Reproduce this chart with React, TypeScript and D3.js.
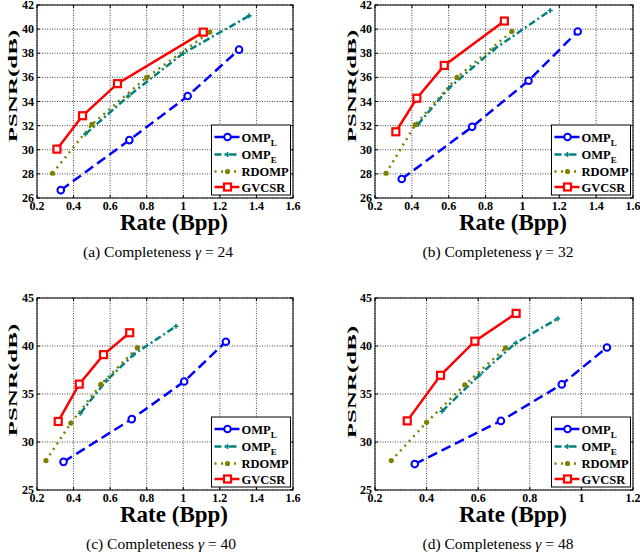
import React from 'react';
import * as d3 from 'd3';

// rate (bpp), psnr (dB) pairs
const ompL_a = [[0.33, 26.65], [0.705, 30.8], [1.024, 34.45], [1.305, 38.3]];
const ompE_a = [[0.465, 31.3], [0.7, 34.45], [1.0, 38.0], [1.36, 41.1]];
const rdomp_a = [[0.285, 28.05], [0.5, 32.1], [0.8, 36.0], [1.145, 39.75]];
const gvcsr_a = [[0.309, 30.05], [0.449, 32.82], [0.64, 35.48], [1.109, 39.75]];

const ompL_b = [[0.345, 27.57], [0.727, 31.9], [1.033, 35.72], [1.3, 39.8]];
const ompE_b = [[0.433, 32.1], [0.6, 35.1], [0.843, 38.3], [1.151, 41.55]];
const rdomp_b = [[0.26, 28.05], [0.418, 32.07], [0.645, 36.0], [0.943, 39.82]];
const gvcsr_b = [[0.313, 31.49], [0.427, 34.27], [0.576, 36.99], [0.902, 40.67]];

const ompL_c = [[0.345, 27.93], [0.718, 32.38], [1.005, 36.3], [1.233, 40.45]];
const ompE_c = [[0.437, 33.0], [0.58, 36.4], [0.727, 39.1], [0.96, 42.05]];
const rdomp_c = [[0.249, 28.07], [0.385, 31.97], [0.549, 36.0], [0.749, 39.83]];
const gvcsr_c = [[0.316, 32.14], [0.431, 36.03], [0.564, 39.1], [0.707, 41.38]];

const ompL_d = [[0.354, 27.7], [0.688, 32.2], [0.924, 36.0], [1.099, 39.85]];
const ompE_d = [[0.46, 33.2], [0.606, 37.0], [0.745, 40.3], [0.908, 42.85]];
const rdomp_d = [[0.263, 28.06], [0.4, 32.05], [0.548, 35.95], [0.706, 39.8]];
const gvcsr_d = [[0.325, 32.2], [0.454, 36.95], [0.587, 40.5], [0.747, 43.4]];

const xTicksWide = [0.2, 0.4, 0.6, 0.8, 1, 1.2, 1.4, 1.6];
const xTicksNarrow = [0.2, 0.4, 0.6, 0.8, 1, 1.2];
const yTicksFine = [26, 28, 30, 32, 34, 36, 38, 40, 42];
const yTicksCoarse = [25, 30, 35, 40, 45];

const seriesNames = ['OMP', 'OMP', 'RDOMP', 'GVCSR'];
const seriesSubs = ['L', 'E', '', ''];
const captions = [
  ['(a)', '24'],
  ['(b)', '32'],
  ['(c)', '40'],
  ['(d)', '48'],
];

const styles = [
  { color: '#0000ff', dash: '10 5', marker: 'circle' },
  { color: '#008080', dash: '7 3 2 3', marker: 'plus' },
  { color: '#808000', dash: '2 4.5', marker: 'dot' },
  { color: '#ff0000', dash: null, marker: 'square' },
];

const serif = '"Liberation Serif", "Times New Roman", serif';

const Marker = ({ kind, x, y, color }) => {
  if (kind === 'circle')
    return <circle cx={x} cy={y} r={3.3} fill="#fff" stroke={color} strokeWidth={2} />;
  if (kind === 'square')
    return <rect x={x - 3.5} y={y - 3.5} width={7} height={7} fill="#fff" stroke={color} strokeWidth={2.2} />;
  if (kind === 'dot') return <circle cx={x} cy={y} r={2.6} fill={color} />;
  return (
    <path d={`M${x - 2.5},${y}H${x + 2.5}M${x},${y - 2.5}V${y + 2.5}`} stroke={color} strokeWidth={1.6} />
  );
};

const Panel = ({ box, xDomain, xTicks, yDomain, yTicks, series, caption, captionX, labelX, labelY }) => {
  const { left, right, top, bottom } = box;
  const x = d3.scaleLinear().domain(xDomain).range([left, right]);
  const y = d3.scaleLinear().domain(yDomain).range([bottom, top]);
  const line = d3.line().x(d => x(d[0])).y(d => y(d[1]));

  const lgW = 79, lgH = 70;
  const lgX = right - 2.5 - lgW;
  const lgY = bottom - 3 - lgH;
  const rows = [12, 29.5, 46.5, 62];

  return (
    <g>
      {/* grid */}
      {xTicks.map(t => (
        <line key={'gx' + t} x1={x(t)} x2={x(t)} y1={top} y2={bottom} stroke="#444" strokeWidth={1} strokeDasharray="1 1.5" />
      ))}
      {yTicks.map(t => (
        <line key={'gy' + t} x1={left} x2={right} y1={y(t)} y2={y(t)} stroke="#444" strokeWidth={1} strokeDasharray="1 1.5" />
      ))}
      <rect x={left} y={top} width={right - left} height={bottom - top} fill="none" stroke="#000" strokeWidth={1} />
      {/* ticks */}
      {xTicks.map(t => (
        <g key={'tx' + t}>
          <line x1={x(t)} x2={x(t)} y1={bottom} y2={bottom - 3} stroke="#000" />
          <line x1={x(t)} x2={x(t)} y1={top} y2={top + 3} stroke="#000" />
          <text x={x(t)} y={bottom + 12} textAnchor="middle" fontFamily={serif} fontWeight="bold" fontSize={12}>
            {String(+t.toFixed(1))}
          </text>
        </g>
      ))}
      {yTicks.map(t => (
        <g key={'ty' + t}>
          <line x1={left} x2={left + 3} y1={y(t)} y2={y(t)} stroke="#000" />
          <line x1={right} x2={right - 3} y1={y(t)} y2={y(t)} stroke="#000" />
          <text x={left - 3} y={y(t) + 4} textAnchor="end" fontFamily={serif} fontWeight="bold" fontSize={12}>
            {t}
          </text>
        </g>
      ))}

      {/* lines */}
      {series.map((s, i) => (
        <g key={'s' + i}>
          <path
            d={line(s)}
            fill="none"
            stroke={styles[i].color}
            strokeWidth={2.5}
            strokeDasharray={styles[i].dash || undefined}
          />
          {s.map((p, j) => (
            <Marker key={j} kind={styles[i].marker} x={x(p[0])} y={y(p[1])} color={styles[i].color} />
          ))}
        </g>
      ))}

      {/* legend */}
      <rect x={lgX} y={lgY} width={lgW} height={lgH} fill="#fff" stroke="#000" strokeWidth={1} />
      {rows.map((r, i) => (
        <g key={'lg' + i}>
          <line
            x1={lgX + 3}
            x2={lgX + 28}
            y1={lgY + r}
            y2={lgY + r}
            stroke={styles[i].color}
            strokeWidth={2.5}
            strokeDasharray={styles[i].dash || undefined}
          />
          <Marker kind={styles[i].marker} x={lgX + 16} y={lgY + r} color={styles[i].color} />
          <text x={lgX + 30} y={lgY + r + 4.5} fontFamily={serif} fontWeight="bold" fontSize={12.5}>
            {seriesNames[i]}
            {seriesSubs[i] && (
              <tspan fontSize={9} dy={4}>
                {seriesSubs[i]}
              </tspan>
            )}
          </text>
        </g>
      ))}

      {/* axis labels */}
      <text
        x={(left + right) / 2 + 9}
        y={bottom + 32}
        textAnchor="middle"
        fontFamily={serif}
        fontWeight="bold"
        fontSize={23}
      >
        Rate (Bpp)
      </text>
      <text
        transform={`translate(${labelX},${labelY}) rotate(-90) scale(1,0.5)`}
        textAnchor="middle"
        dominantBaseline="central"
        fontFamily={serif}
        fontWeight="bold"
        fontSize={25}
      >
        PSNR(dB)
      </text>

      {/* caption */}
      <text x={captionX} y={bottom + 59} textAnchor="middle" fontFamily={serif} fontSize={15.5}>
        {caption[0]} Completeness <tspan fontStyle="italic">γ</tspan> = {caption[1]}
      </text>
    </g>
  );
};

export default function App() {
  const panels = [
    {
      box: { left: 37, right: 293, top: 5, bottom: 198 },
      xDomain: [0.2, 1.6], xTicks: xTicksWide, yDomain: [26, 42], yTicks: yTicksFine,
      series: [ompL_a, ompE_a, rdomp_a, gvcsr_a], caption: captions[0], captionX: 158, labelX: 13, labelY: 86,
    },
    {
      box: { left: 375, right: 633, top: 5, bottom: 198 },
      xDomain: [0.2, 1.6], xTicks: xTicksWide, yDomain: [26, 42], yTicks: yTicksFine,
      series: [ompL_b, ompE_b, rdomp_b, gvcsr_b], caption: captions[1], captionX: 498, labelX: 352, labelY: 86,
    },
    {
      box: { left: 37, right: 293, top: 298, bottom: 490 },
      xDomain: [0.2, 1.6], xTicks: xTicksWide, yDomain: [25, 45], yTicks: yTicksCoarse,
      series: [ompL_c, ompE_c, rdomp_c, gvcsr_c], caption: captions[2], captionX: 161, labelX: 13, labelY: 380,
    },
    {
      box: { left: 375, right: 633, top: 298, bottom: 490 },
      xDomain: [0.2, 1.2], xTicks: xTicksNarrow, yDomain: [25, 45], yTicks: yTicksCoarse,
      series: [ompL_d, ompE_d, rdomp_d, gvcsr_d], caption: captions[3], captionX: 498, labelX: 352, labelY: 382,
    },
  ];

  return (
    <svg width={640} height={554} style={{ position: 'absolute', left: 0, top: 0, background: '#fff' }}>
      <rect width={640} height={554} fill="#fff" />
      {panels.map((p, i) => (
        <Panel key={i} {...p} />
      ))}
    </svg>
  );
}
